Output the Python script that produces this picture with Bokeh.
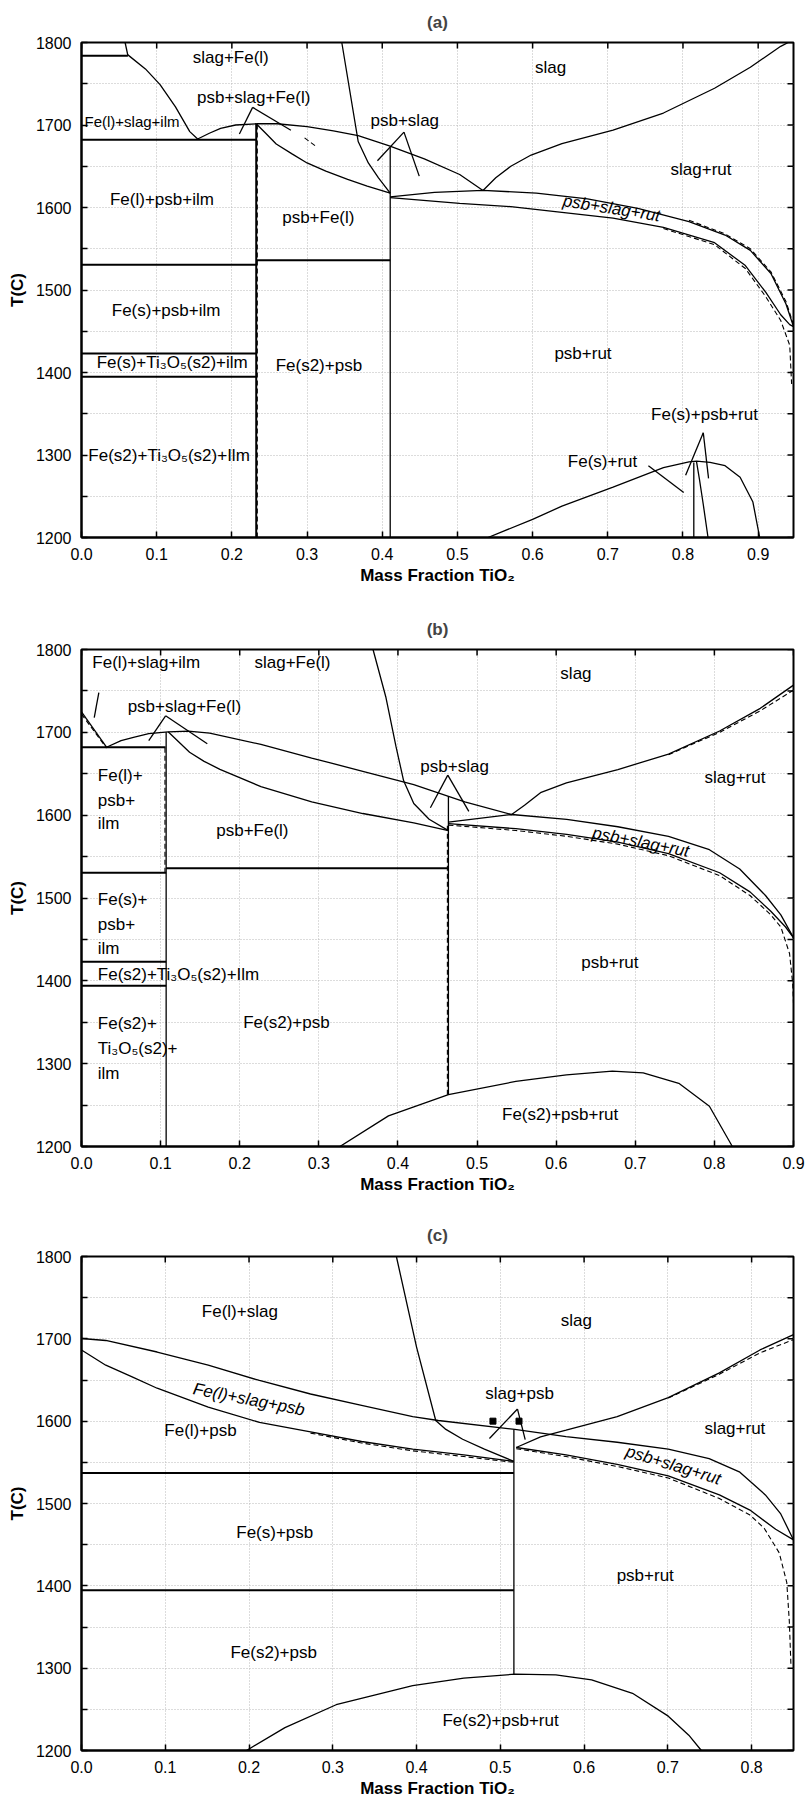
import math
from bokeh.plotting import figure
from bokeh.models import (FixedTicker, NumeralTickFormatter, Range1d, Label)
from bokeh.layouts import column
from bokeh.embed import file_html
from bokeh.resources import INLINE

FONT = "Liberation Sans"

# ---------------- ticks ----------------
X_TICKS_09 = [0.0, 0.1, 0.2, 0.3, 0.4, 0.5, 0.6, 0.7, 0.8, 0.9]
X_TICKS_08 = [0.0, 0.1, 0.2, 0.3, 0.4, 0.5, 0.6, 0.7, 0.8]
T_MAJOR = [1200, 1300, 1400, 1500, 1600, 1700, 1800]
T_MINOR = [1250, 1350, 1450, 1550, 1650, 1750]

# ---------------- panel (a) ----------------
A_XMAX = 0.947
A_TOP_H = ([0.0, 0.0617], [1784, 1784])
A_TOP_V = ([0.058, 0.0617], [1800, 1784])
A_FE_LIQ = ([0.0617, 0.085, 0.1045, 0.125, 0.144, 0.1545], [1785, 1768, 1749, 1722, 1692, 1683])
A_H1682 = ([0.0, 0.232], [1682, 1682])
A_DOME_L = ([0.1545, 0.17, 0.185, 0.205, 0.2324], [1683, 1690, 1696, 1700, 1701.5])
A_UPPER = ([0.2324, 0.26, 0.30, 0.335, 0.368, 0.4085, 0.456, 0.503, 0.534],
           [1701.5, 1701.5, 1698, 1693, 1687, 1675, 1659, 1640, 1620.7])
A_PSB_LOW = ([0.2324, 0.245, 0.259, 0.28, 0.30, 0.325, 0.354, 0.38, 0.4106],
             [1701.5, 1690, 1677, 1665, 1654, 1644, 1634, 1626, 1617.5])
A_V023 = ([0.2324, 0.2324], [1200, 1701.5])
A_V023_D = ([0.2338, 0.2338], [1200, 1700])
A_V041 = ([0.4106, 0.4106], [1200, 1673])
A_STEEP = ([0.3462, 0.368, 0.3815, 0.395, 0.4106], [1800, 1680, 1654, 1636, 1617.5])
A_H1530 = ([0.0, 0.2324], [1530.5, 1530.5])
A_H1536 = ([0.2324, 0.4106], [1536, 1536])
A_H1423 = ([0.0, 0.2324], [1423, 1423])
A_H1395 = ([0.0, 0.2324], [1395, 1395])
A_SLAG_RUT = ([0.534, 0.551, 0.571, 0.598, 0.639, 0.707, 0.774, 0.842, 0.8896, 0.930, 0.940],
              [1620.7, 1636, 1650, 1663.6, 1677.5, 1693.7, 1714.5, 1744.5, 1770, 1795.4, 1800])
A_PSR_UP = ([0.4106, 0.4695, 0.534, 0.605, 0.673, 0.740, 0.808, 0.856, 0.8896, 0.917, 0.937, 0.947],
            [1613, 1618.4, 1620.7, 1617.5, 1610.5, 1599, 1583, 1566.6, 1548, 1520, 1483, 1455.6])
A_PSR_UP_D = ([0.808, 0.856, 0.8896, 0.917, 0.937, 0.947],
              [1584.5, 1568, 1550, 1522, 1486, 1458])
A_PSR_LOW = ([0.4106, 0.503, 0.571, 0.639, 0.707, 0.774, 0.842, 0.883, 0.910, 0.930, 0.942, 0.947],
             [1612, 1605, 1601, 1594, 1587, 1576, 1557.3, 1529.6, 1497.3, 1470, 1458, 1455.6])
A_PSR_LOW_D = ([0.774, 0.842, 0.883, 0.910, 0.930, 0.942, 0.9445],
               [1574.5, 1555, 1526, 1492, 1463, 1433, 1386])
A_BOTTOM = ([0.5407, 0.60, 0.639, 0.707, 0.774, 0.808, 0.818, 0.836, 0.856, 0.876, 0.893, 0.902],
            [1200, 1222, 1238, 1261, 1284.6, 1291.6, 1292.5, 1291, 1287, 1273, 1243, 1200])
A_V813 = ([0.8144, 0.8144], [1200, 1291])
A_V818 = ([0.818, 0.822, 0.827, 0.8333], [1292, 1270, 1240, 1200])
A_LEAD_1 = ([0.2276, 0.210], [1721.4, 1689])
A_LEAD_2 = ([0.2276, 0.2785], [1721.4, 1693.7])
A_LEAD_3 = ([0.4289, 0.3936], [1691.4, 1656.7])
A_LEAD_4 = ([0.4289, 0.4492], [1691.4, 1638])
A_LEAD_5 = ([0.827, 0.8035], [1327, 1275.4])
A_LEAD_6 = ([0.827, 0.834], [1327, 1271.7])
A_LEAD_7 = ([0.754, 0.801], [1287, 1254.6])
A_LEAD_D = ([0.2967, 0.3123], [1684.4, 1673.8])

A_LABEL_TEXT = ["slag+Fe(l)", "slag", "psb+slag+Fe(l)", "psb+slag", "slag+rut",
                "Fe(l)+psb+ilm", "psb+Fe(l)", "Fe(s)+psb+ilm", "psb+rut", "Fe(s)+Ti\u2083O\u2085(s2)+ilm",
                "Fe(s2)+psb", "Fe(s2)+Ti\u2083O\u2085(s2)+Ilm", "Fe(s)+psb+rut", "Fe(s)+rut"]
A_LABEL_X = [0.1985, 0.624, 0.229, 0.430, 0.824, 0.107, 0.315, 0.1125, 0.667, 0.1206,
             0.3157, 0.1165, 0.8286, 0.693]
A_LABEL_T = [1782, 1770, 1733, 1706, 1646.5, 1609.6, 1587.4, 1475, 1423, 1411.8,
             1408.5, 1299.4, 1349.4, 1292.5]
# label that overhangs the frame in the original: kept inside the frame, slightly smaller
A_SMALL_TEXT = ["Fe(l)+slag+ilm"]
A_SMALL_X = [0.004]
A_SMALL_T = [1704]
A_ROT_TEXT = ["psb+slag+rut"]
A_ROT_X = [0.705]
A_ROT_T = [1599]
A_ROT_DEG = [-9]

# ---------------- panel (b) ----------------
B_XMAX = 0.9
B_LEFT = ([0.0, 0.0316], [1724.7, 1682])
B_LEFT_D = ([0.0, 0.0316], [1722, 1681])
B_H1682 = ([0.0, 0.1063], [1682, 1682])
B_DOME_L = ([0.0316, 0.05, 0.0657, 0.085, 0.1095], [1682, 1690, 1694, 1698.5, 1700.6])
B_UPPER = ([0.1095, 0.135, 0.162, 0.2268, 0.291, 0.3556, 0.420, 0.4845, 0.5437],
           [1700.6, 1701.5, 1699, 1685.4, 1669, 1653, 1636.8, 1616, 1600.8])
B_PSB_LOW = ([0.1095, 0.1366, 0.155, 0.175, 0.2268, 0.291, 0.3556, 0.420, 0.4638],
             [1700.6, 1676, 1665, 1655.3, 1634.5, 1616, 1602, 1590.6, 1581.4])
B_V0107 = ([0.107, 0.107], [1200, 1700])
B_V0107_D = ([0.1055, 0.1055], [1530.5, 1682])
B_STEEP = ([0.3685, 0.3846, 0.3975, 0.4072, 0.420, 0.4394, 0.4638],
           [1800, 1743, 1683, 1641.5, 1614, 1595, 1581.4])
B_V046 = ([0.4638, 0.4638], [1262.5, 1623])
B_V046_D = ([0.4625, 0.4625], [1262.5, 1590])
B_H1536 = ([0.107, 0.4638], [1536, 1536])
B_H1530 = ([0.0, 0.107], [1530.5, 1530.5])
B_H1423 = ([0.0, 0.107], [1423, 1423])
B_H1394 = ([0.0, 0.107], [1394, 1394])
B_SLAG_RUT = ([0.5437, 0.56, 0.581, 0.613, 0.678, 0.742, 0.8066, 0.858, 0.9],
              [1600.8, 1612, 1627.6, 1639, 1655, 1673.8, 1701.6, 1729, 1757])
B_SLAG_RUT_D = ([0.742, 0.8066, 0.858, 0.9], [1673, 1700, 1726, 1751])
B_PSR_UP = ([0.4638, 0.5437, 0.6133, 0.678, 0.742, 0.7937, 0.832, 0.8646, 0.884, 0.9],
            [1591.5, 1600.8, 1595, 1586, 1574.4, 1558.3, 1535, 1503, 1479.7, 1452])
B_PSR_LOW = ([0.4638, 0.549, 0.6133, 0.678, 0.742, 0.8066, 0.845, 0.871, 0.89, 0.9],
             [1589.7, 1583.7, 1576.8, 1567.5, 1553.6, 1530.5, 1507.4, 1484.3, 1465, 1452])
B_PSR_LOW_D = ([0.4638, 0.549, 0.6133, 0.678, 0.742, 0.8066, 0.845, 0.871, 0.884, 0.895, 0.899, 0.9],
               [1588, 1581.5, 1574.5, 1565, 1551, 1527, 1503, 1480, 1465, 1433, 1396.5, 1373])
B_BOTTOM = ([0.3266, 0.388, 0.4638, 0.549, 0.613, 0.671, 0.71, 0.755, 0.7937, 0.8227],
            [1200, 1237, 1262.5, 1278.6, 1286.5, 1291, 1289, 1276.3, 1248.6, 1200])
B_LEAD_1 = ([0.0219, 0.0161], [1747.8, 1717.7])
B_LEAD_2 = ([0.1063, 0.085], [1720, 1690])
B_LEAD_3 = ([0.1063, 0.159], [1720, 1686.3])
B_LEAD_4 = ([0.463, 0.441], [1648.4, 1609])
B_LEAD_5 = ([0.463, 0.4896], [1648.4, 1604.5])

B_LABEL_TEXT = ["Fe(l)+slag+ilm", "slag+Fe(l)", "slag", "psb+slag+Fe(l)", "psb+slag", "slag+rut",
                "psb+Fe(l)", "psb+rut", "Fe(s2)+psb", "Fe(s2)+psb+rut"]
B_LABEL_X = [0.0818, 0.2667, 0.625, 0.130, 0.4716, 0.826, 0.216, 0.668, 0.259, 0.605]
B_LABEL_T = [1784.7, 1784.7, 1771, 1730.7, 1659, 1646, 1582, 1422, 1350.3, 1239]
B_LEFT_TEXT = ["Fe(l)+", "psb+", "ilm", "Fe(s)+", "psb+", "ilm",
               "Fe(s2)+Ti\u2083O\u2085(s2)+Ilm", "Fe(s2)+", "Ti\u2083O\u2085(s2)+", "ilm"]
B_LEFT_X = [0.0206, 0.0206, 0.0206, 0.0206, 0.0206, 0.0206, 0.0206, 0.0206, 0.0206, 0.0206]
B_LEFT_T = [1648.4, 1617.4, 1589.7, 1498, 1468, 1439, 1408, 1348, 1318, 1288]
B_ROT_TEXT = ["psb+slag+rut"]
B_ROT_X = [0.707]
B_ROT_T = [1567.5]
B_ROT_DEG = [-11]

# ---------------- panel (c) ----------------
C_XMAX = 0.85
C_UPPER = ([0.0, 0.029, 0.0903, 0.1513, 0.2124, 0.2734, 0.3344, 0.3954, 0.426, 0.5174, 0.5785,
            0.6395, 0.7005, 0.7493, 0.786, 0.8164, 0.8348, 0.85],
           [1700.4, 1698, 1684, 1668, 1649.4, 1633, 1619.3, 1605.4, 1600.8, 1590, 1581.3,
            1574.4, 1566, 1554.4, 1538, 1510.4, 1487.3, 1455.8])
C_LOWER_L = ([0.0, 0.029, 0.0598, 0.0903, 0.1513, 0.2124, 0.2734, 0.3344, 0.3954, 0.4564, 0.516],
             [1686.5, 1668, 1654, 1640, 1617, 1598.5, 1587, 1575.3, 1566, 1559, 1551.2])
C_LOWER_L_D = ([0.2734, 0.3344, 0.3954, 0.4564, 0.516], [1585.5, 1573.5, 1564, 1557, 1550])
C_STEEP = ([0.3759, 0.40, 0.4229, 0.435, 0.455, 0.481, 0.516],
           [1800, 1690, 1600.8, 1590, 1578, 1566, 1551.2])
C_V052 = ([0.5162, 0.5162], [1292.7, 1590])
C_H1537 = ([0.0, 0.5162], [1537, 1537])
C_H1395 = ([0.0, 0.5162], [1394.6, 1394.6])
C_SLAG_RUT = ([0.519, 0.548, 0.5785, 0.6395, 0.7005, 0.7615, 0.810, 0.85],
              [1568, 1580.9, 1589, 1605.4, 1628.6, 1658.7, 1686.5, 1705])
C_SLAG_RUT_D = ([0.7005, 0.7615, 0.810, 0.85], [1628, 1657, 1683, 1699])
C_PSR_LOW = ([0.519, 0.5785, 0.6395, 0.7005, 0.7615, 0.798, 0.8287, 0.85],
             [1568, 1559, 1547.5, 1533.6, 1510.4, 1492, 1468.7, 1455.8])
C_PSR_LOW_D = ([0.519, 0.5785, 0.6395, 0.7005, 0.7615, 0.798, 0.815, 0.833, 0.842, 0.845, 0.847],
               [1566.5, 1557, 1545, 1531, 1506, 1486, 1470, 1440, 1404, 1357, 1302])
C_BOTTOM = ([0.197, 0.2429, 0.304, 0.3954, 0.4564, 0.5174, 0.5663, 0.609, 0.6578, 0.7005, 0.725, 0.740],
            [1200, 1227.8, 1255.6, 1278.8, 1288, 1292.7, 1291.8, 1285.8, 1269.5, 1241.7, 1218.6, 1200])
C_LEAD_1 = ([0.5205, 0.487], [1614.7, 1579])
C_LEAD_2 = ([0.5205, 0.5297], [1614.7, 1577.6])
C_SQUARES = ([0.4912, 0.5223], [1600, 1600])

C_LABEL_TEXT = ["Fe(l)+slag", "slag", "slag+psb", "Fe(l)+psb", "slag+rut", "Fe(s)+psb",
                "psb+rut", "Fe(s2)+psb", "Fe(s2)+psb+rut"]
C_LABEL_X = [0.189, 0.5907, 0.523, 0.142, 0.78, 0.2307, 0.673, 0.2294, 0.5003]
C_LABEL_T = [1732.8, 1722, 1633, 1589, 1590.6, 1465, 1413, 1319.5, 1237]
C_ROT_TEXT = ["Fe(l)+slag+psb", "psb+slag+rut"]
C_ROT_X = [0.2, 0.7066]
C_ROT_T = [1626.3, 1546.6]
C_ROT_DEG = [-11, -17]

LABEL_SIZE = "17px"


def style_axis(ax):
    ax.major_label_text_font = FONT
    ax.major_label_text_font_size = "16px"
    ax.major_label_text_color = "black"
    ax.axis_label_text_font = FONT
    ax.axis_label_text_font_size = "17px"
    ax.axis_label_text_font_style = "bold"
    ax.axis_label_text_color = "black"
    ax.major_tick_in = 6
    ax.major_tick_out = 0
    ax.major_tick_line_color = "black"
    ax.major_tick_line_width = 1.5
    ax.axis_line_color = "black"
    ax.axis_line_width = 2


def add_label(p, text, x, y, align="center", angle_deg=0.0, italic=False, size=LABEL_SIZE):
    p.add_layout(Label(x=x, y=y, text=text, text_align=align, text_baseline="middle",
                       angle=math.radians(angle_deg),
                       text_font_style="italic" if italic else "normal",
                       text_font=FONT, text_font_size=size, text_color="black"))


def build(title, xmax, xticks, thin, thick, dashed, labels, left_labels, rot_labels,
          height, bt, bb, bl, br, standoff, squares=None, small_labels=None):
    p = figure(width=805, height=height, x_range=Range1d(0, xmax), y_range=Range1d(1200, 1800),
               output_backend="svg", toolbar_location=None,
               min_border_top=bt, min_border_bottom=bb, min_border_left=bl, min_border_right=br,
               x_axis_label="Mass Fraction TiO\u2082", y_axis_label="T(C)")
    p.title.text = title
    p.title.align = "center"
    p.title.text_font = FONT
    p.title.text_font_size = "17px"
    p.title.text_font_style = "bold"
    p.title.standoff = standoff
    p.outline_line_color = "black"
    p.outline_line_width = 2
    p.background_fill_color = "white"
    p.border_fill_color = "white"

    xa = p.xaxis[0]
    xa.ticker = FixedTicker(ticks=xticks)
    xa.formatter = NumeralTickFormatter(format="0.0")
    style_axis(xa)
    xa.major_label_standoff = 10
    xa.axis_label_standoff = 3
    xa.minor_tick_line_color = None
    ya = p.yaxis[0]
    ya.ticker = FixedTicker(ticks=T_MAJOR, minor_ticks=T_MINOR)
    style_axis(ya)
    ya.major_label_standoff = 10
    ya.axis_label_standoff = 6
    ya.minor_tick_in = 6
    ya.minor_tick_out = 0
    ya.minor_tick_line_color = "black"
    ya.minor_tick_line_width = 1.5

    p.xgrid.ticker = FixedTicker(ticks=xticks)
    p.ygrid.ticker = FixedTicker(ticks=T_MAJOR, minor_ticks=T_MINOR)
    for g in (p.xgrid[0], p.ygrid[0]):
        g.grid_line_color = "#b8b8b8"
        g.grid_line_dash = "1 2"
        g.grid_line_width = 1
    p.ygrid[0].minor_grid_line_color = "#b8b8b8"
    p.ygrid[0].minor_grid_line_dash = "1 2"

    # inward tick marks on the top and right frame edges (half of each dash is clipped)
    p.scatter(xticks, [1800] * len(xticks), marker="dash", size=12, angle=math.pi / 2,
              line_color="black", line_width=1.5)
    yt = T_MAJOR + T_MINOR
    p.scatter([xmax] * len(yt), yt, marker="dash", size=12, angle=0.0,
              line_color="black", line_width=1.5)

    for xs, ts in thin:
        p.line(xs, ts, line_color="black", line_width=1.3)
    for xs, ts in thick:
        p.line(xs, ts, line_color="black", line_width=2.0)
    for xs, ts in dashed:
        p.line(xs, ts, line_color="black", line_width=1.1, line_dash="5 3")
    if squares is not None:
        p.scatter(squares[0], squares[1], marker="square", size=6, color="black")

    txt, lx, lt = labels
    for t, x, y in zip(txt, lx, lt):
        add_label(p, t, x, y)
    if left_labels is not None:
        txt, lx, lt = left_labels
        for t, x, y in zip(txt, lx, lt):
            add_label(p, t, x, y, align="left")
    if small_labels is not None:
        txt, lx, lt = small_labels
        for t, x, y in zip(txt, lx, lt):
            add_label(p, t, x, y, align="left", size="15px")
    txt, lx, lt, deg = rot_labels
    for t, x, y, d in zip(txt, lx, lt, deg):
        add_label(p, t, x, y, angle_deg=d, italic=True)
    return p


pa = build("(a)", A_XMAX, X_TICKS_09,
           thin=[A_TOP_V, A_FE_LIQ, A_DOME_L, A_UPPER, A_PSB_LOW, A_V041, A_STEEP, A_SLAG_RUT,
                 A_PSR_UP, A_PSR_LOW, A_BOTTOM, A_V813, A_V818,
                 A_LEAD_1, A_LEAD_2, A_LEAD_3, A_LEAD_4, A_LEAD_5, A_LEAD_6, A_LEAD_7],
           thick=[A_TOP_H, A_H1682, A_V023, A_H1530, A_H1536, A_H1423, A_H1395],
           dashed=[A_V023_D, A_PSR_UP_D, A_PSR_LOW_D, A_LEAD_D],
           labels=(A_LABEL_TEXT, A_LABEL_X, A_LABEL_T), left_labels=None,
           rot_labels=(A_ROT_TEXT, A_ROT_X, A_ROT_T, A_ROT_DEG),
           height=597, bt=41, bb=60, bl=81, br=8, standoff=21,
           small_labels=(A_SMALL_TEXT, A_SMALL_X, A_SMALL_T))

pb = build("(b)", B_XMAX, X_TICKS_09,
           thin=[B_LEFT, B_DOME_L, B_UPPER, B_PSB_LOW, B_V0107, B_STEEP, B_V046, B_SLAG_RUT,
                 B_PSR_UP, B_PSR_LOW, B_BOTTOM, B_LEAD_1, B_LEAD_2, B_LEAD_3, B_LEAD_4, B_LEAD_5],
           thick=[B_H1682, B_H1536, B_H1530, B_H1423, B_H1394],
           dashed=[B_LEFT_D, B_V0107_D, B_V046_D, B_SLAG_RUT_D, B_PSR_LOW_D],
           labels=(B_LABEL_TEXT, B_LABEL_X, B_LABEL_T),
           left_labels=(B_LEFT_TEXT, B_LEFT_X, B_LEFT_T),
           rot_labels=(B_ROT_TEXT, B_ROT_X, B_ROT_T, B_ROT_DEG),
           height=609, bt=52, bb=60, bl=76, br=12, standoff=21)

pc = build("(c)", C_XMAX, X_TICKS_08,
           thin=[C_UPPER, C_LOWER_L, C_STEEP, C_V052, C_SLAG_RUT, C_PSR_LOW, C_BOTTOM,
                 C_LEAD_1, C_LEAD_2],
           thick=[C_H1537, C_H1395],
           dashed=[C_LOWER_L_D, C_SLAG_RUT_D, C_PSR_LOW_D],
           labels=(C_LABEL_TEXT, C_LABEL_X, C_LABEL_T), left_labels=None,
           rot_labels=(C_ROT_TEXT, C_ROT_X, C_ROT_T, C_ROT_DEG),
           height=594, bt=50, bb=50, bl=77, br=12, standoff=23, squares=C_SQUARES)

layout = column(pa, pb, pc, spacing=0)
open("out.html", "w").write(file_html(layout, INLINE))
